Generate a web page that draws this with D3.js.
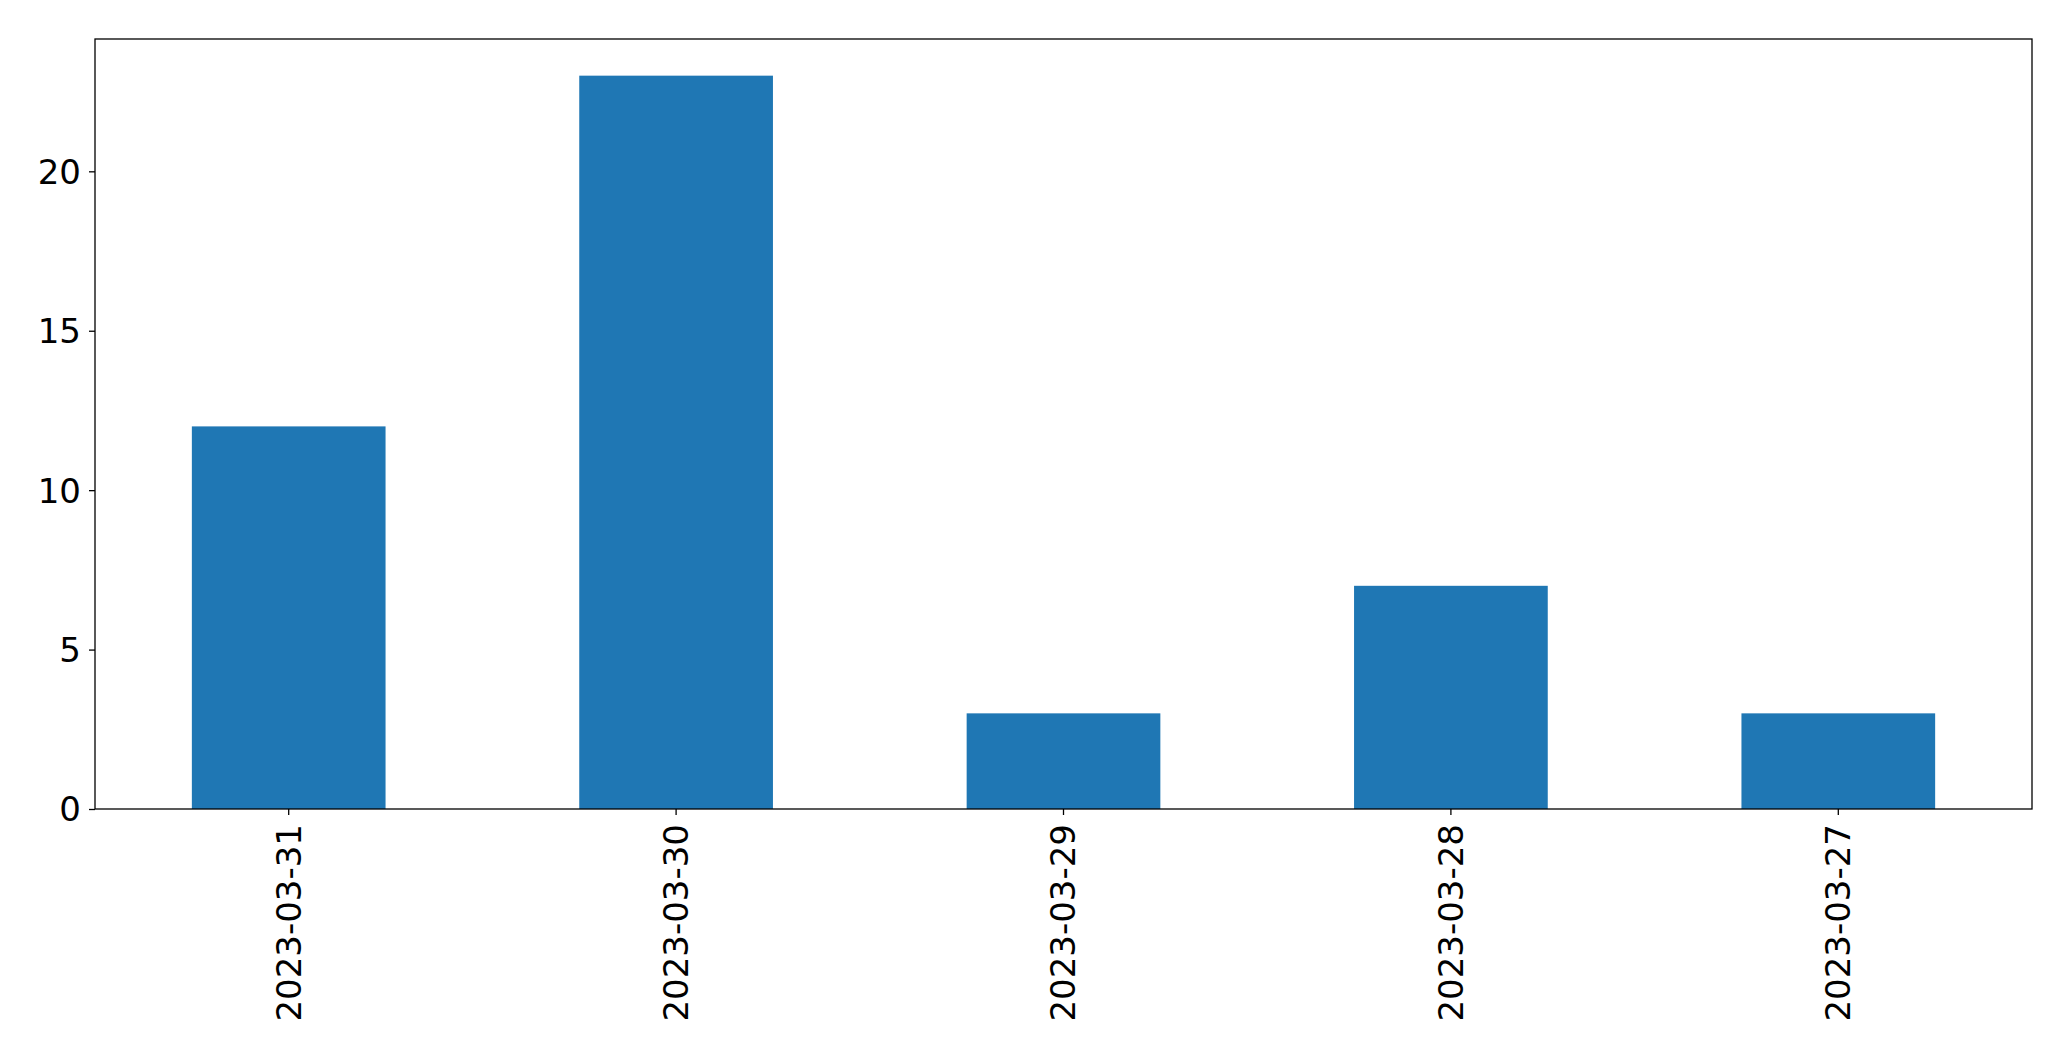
<!DOCTYPE html>
<html><head><meta charset="utf-8">
<script src="https://cdn.jsdelivr.net/npm/d3@7"></script>
<style>body{margin:0;background:#fff}svg{display:block}text{font-family:"DejaVu Sans",sans-serif}</style>
</head><body>
<svg id="c" width="2071" height="1061"></svg>
<script>
const categories = ["2023-03-31","2023-03-30","2023-03-29","2023-03-28","2023-03-27"];
const values = [12, 23, 3, 7, 3];
const yTicks = [0, 5, 10, 15, 20];

const W = 2071, H = 1061;
const m = {left: 95, right: 2032, top: 39, bottom: 809};
const svg = d3.select("#c");
const x = d3.scaleBand().domain(categories).range([m.left, m.right]).paddingInner(0.5).paddingOuter(0.25);
const y = d3.scaleLinear().domain([0, d3.max(values) * 1.05]).range([m.bottom, m.top]);

svg.append("g").selectAll("rect").data(values).join("rect")
  .attr("x", (d, i) => x(categories[i]))
  .attr("width", x.bandwidth())
  .attr("y", d => y(d))
  .attr("height", d => y(0) - y(d))
  .attr("fill", "#1f77b4");

const fs = "34px";
const ya = svg.append("g").attr("transform", `translate(${m.left},0)`)
  .call(d3.axisLeft(y).tickValues(yTicks).tickSize(6).tickPadding(8).tickFormat(d3.format("d")));
ya.select(".domain").remove();
ya.selectAll("line").attr("stroke", "#000").attr("stroke-width", 1.3);
ya.selectAll("text").style("font-size", fs).attr("fill", "#000").attr("dy", "0.35em");

const xa = svg.append("g").attr("transform", `translate(0,${m.bottom})`)
  .call(d3.axisBottom(x).tickSize(6).tickPadding(0));
xa.select(".domain").remove();
xa.selectAll("line").attr("stroke", "#000").attr("stroke-width", 1.3);
xa.selectAll("text").style("font-size", fs).attr("fill", "#000")
  .attr("transform", "rotate(-90)")
  .attr("text-anchor", "end")
  .attr("x", -15).attr("y", 0).attr("dy", "0.35em");

svg.append("rect").attr("x", m.left).attr("y", m.top)
  .attr("width", m.right - m.left).attr("height", m.bottom - m.top)
  .attr("fill", "none").attr("stroke", "#000").attr("stroke-width", 1.3);
</script>
</body></html>
